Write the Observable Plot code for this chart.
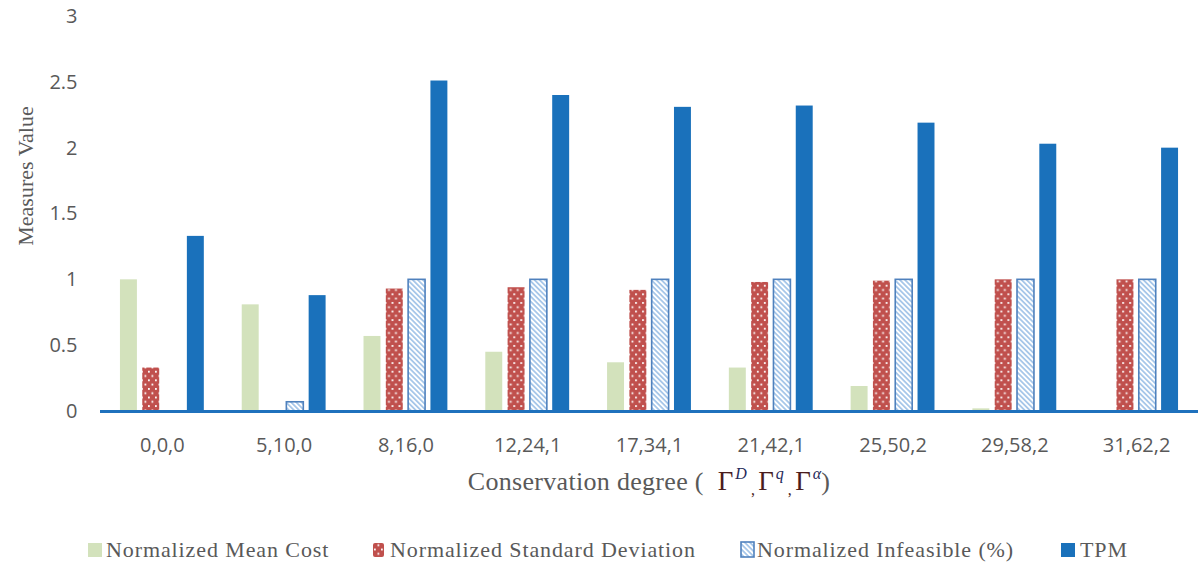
<!DOCTYPE html>
<html>
<head>
<meta charset="utf-8">
<script src="https://cdn.jsdelivr.net/npm/d3@7"></script>
<script src="https://cdn.jsdelivr.net/npm/@observablehq/plot@0.6"></script>
<style>
  html, body { margin: 0; padding: 0; background: #fff; }
  #wrap { position: relative; width: 1199px; height: 565px; overflow: hidden; }
  #ytitle { position: absolute; left: 26px; top: 176px; transform: translate(-50%, -50%) rotate(-90deg);
    font-family: "Liberation Serif", "Times New Roman", serif; font-size: 22px; line-height: 22px; color: #595959; white-space: nowrap; }
  #xtitle { position: absolute; top: 461px; left: 101px; width: 1096px; text-align: center;
    font-family: "Liberation Serif", "Times New Roman", serif; font-size: 26px; line-height: 26px; color: #595959; white-space: nowrap; letter-spacing: 0.3px; }
  #xtitle .g { color: #4a1c1c; font-size: 27px; letter-spacing: 0; }
  #xtitle .gap { display: inline-block; width: 14px; }
  #xtitle sup { font-style: italic; font-size: 16px; color: #1f2a5a; vertical-align: 11px; margin-left: 2px; letter-spacing: 0; }
  #xtitle sub { font-size: 16px; vertical-align: -5px; margin: 0 3px 0 4px; color: #4a1c1c; }
  .leg { position: absolute; top: 539px; height: 22px; white-space: nowrap;
    font-family: "Liberation Serif", "Times New Roman", serif; font-size: 22px; line-height: 21px; color: #595959; letter-spacing: 0.9px; }
  .leg svg { position: absolute; left: 0; }
  .leg span { position: absolute; top: 0; }
</style>
</head>
<body>
<svg width="0" height="0" style="position:absolute">
  <defs>
    <pattern id="dots" patternUnits="userSpaceOnUse" width="7" height="8.6">
      <rect width="7" height="8.6" fill="#c0504d"></rect>
      <rect x="1" y="1" width="1.8" height="1.8" fill="#ffffff"></rect>
      <rect x="4.5" y="5.3" width="1.8" height="1.8" fill="#ffffff"></rect>
    </pattern>
    <pattern id="stripes" patternUnits="userSpaceOnUse" width="3.6" height="3.6" patternTransform="rotate(-45)">
      <rect width="3.6" height="3.6" fill="#ffffff"></rect>
      <rect width="1.8" height="3.6" fill="#a7c7e9"></rect>
    </pattern>
  </defs>
</svg>
<div id="wrap">
  <div id="chart"></div>
  <div id="ytitle"></div>
  <div id="xtitle">Conservation degree (<span class="gap"></span><span class="g">Γ</span><sup>D</sup><sub>,</sub><span class="g">Γ</span><sup>q</sup><sub>,</sub><span class="g">Γ</span><sup>α</sup>)</div>
  <div id="legend"></div>
</div>
<script>
// ---- data ----
const groups = ["0,0,0", "5,10,0", "8,16,0", "12,24,1", "17,34,1", "21,42,1", "25,50,2", "29,58,2", "31,62,2"];
const seriesNames = ["Normalized Mean Cost", "Normalized Standard Deviation", "Normalized Infeasible (%)", "TPM"];
const meanCost   = [1.00, 0.81, 0.57, 0.45, 0.37, 0.33, 0.19, 0.02, 0.00];
const stdDev     = [0.33, 0.00, 0.93, 0.94, 0.92, 0.98, 0.99, 1.00, 1.00];
const infeasible = [0.00, 0.07, 1.00, 1.00, 1.00, 1.00, 1.00, 1.00, 1.00];
const tpm        = [1.33, 0.88, 2.51, 2.40, 2.31, 2.32, 2.19, 2.03, 2.00];
const yTicks = [0, 0.5, 1, 1.5, 2, 2.5, 3];
const yLabel = "Measures Value";

// ---- styles ----
const fills = ["#d3e2bc", "url(#dots)", "url(#stripes)", "#1a71bb"];
const axisBlue = "#1f71bd";
const textGray = "#595959";

const allSeries = [meanCost, stdDev, infeasible, tpm];
const data = groups.flatMap((g, i) => seriesNames.map((s, j) => ({group: g, series: s, value: allSeries[j][i]})));

const barMarks = seriesNames.map((s, j) =>
  Plot.barY(data.filter(d => d.series === s && d.value > 0), {
    fx: "group", x: "series", y: "value",
    fill: fills[j],
    stroke: j === 2 ? "#4f81bd" : "none",
    strokeWidth: j === 2 ? 1.6 : 0
  })
);

const chart = Plot.plot({
  width: 1199,
  height: 460,
  marginLeft: 101,
  marginRight: 2,
  marginTop: 16,
  marginBottom: 49,
  style: {fontFamily: "'Open Sans', 'Liberation Sans', sans-serif", fontSize: "20px", color: textGray, background: "#fff", overflow: "visible"},
  fx: {domain: groups, padding: 0, round: false, label: null, axis: null},
  x: {domain: seriesNames, paddingInner: 0.24, paddingOuter: 0.85, round: false, axis: null},
  y: {domain: [0, 3], axis: null},
  marks: [
    ...barMarks,
    Plot.ruleY([0], {stroke: axisBlue, strokeWidth: 3, insetLeft: -1, insetRight: -1}),
    Plot.axisY({ticks: yTicks, tickFormat: d => String(d), tickSize: 0, tickPadding: 24, line: true, stroke: axisBlue, strokeWidth: 2, fill: textGray, label: null}),
    Plot.axisFx({anchor: "bottom", tickSize: 0, tickPadding: 26, label: null, fill: textGray})
  ]
});
document.getElementById("chart").appendChild(chart);
document.getElementById("ytitle").textContent = yLabel;

// ---- legend ----
const legendItems = [
  {name: seriesNames[0], left: 88, sw: `<rect x="0" y="4" width="14" height="14" fill="${fills[0]}"/>`, tx: 18, w: 15},
  {name: seriesNames[1], left: 373, sw: `<rect x="0" y="4" width="11" height="14" rx="2" fill="${fills[1]}"/>`, tx: 17, w: 12},
  {name: seriesNames[2], left: 740, sw: `<rect x="1" y="3" width="13" height="15" fill="${fills[2]}" stroke="#4f81bd" stroke-width="1.6"/>`, tx: 17, w: 15},
  {name: seriesNames[3], left: 1061, sw: `<rect x="0" y="4" width="14" height="14" fill="${fills[3]}"/>`, tx: 19, w: 15}
];
const legend = document.getElementById("legend");
legendItems.forEach(it => {
  const div = document.createElement("div");
  div.className = "leg";
  div.style.left = it.left + "px";
  div.innerHTML = `<svg width="${it.w}" height="22" style="top:0">${it.sw}</svg><span style="left:${it.tx}px">${it.name}</span>`;
  legend.appendChild(div);
});
</script>
</body>
</html>
